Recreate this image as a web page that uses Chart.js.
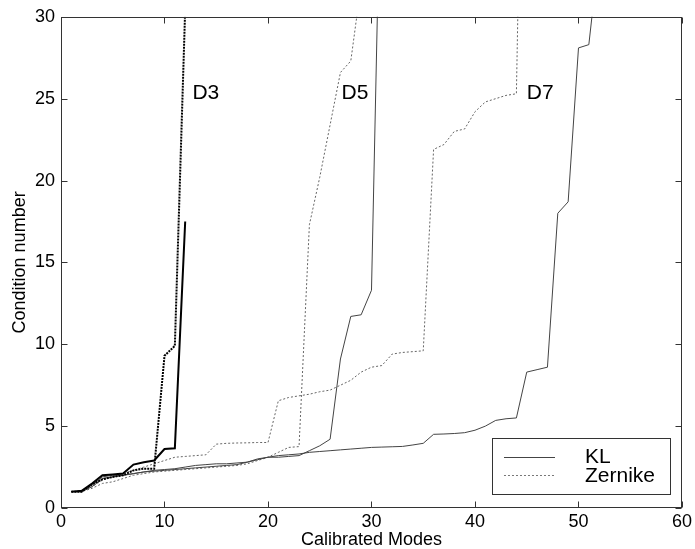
<!DOCTYPE html>
<html>
<head>
<meta charset="utf-8">
<script src="https://cdn.jsdelivr.net/npm/chart.js@4.4.0/dist/chart.umd.min.js"></script>
<style>
html, body { margin: 0; padding: 0; background: #fff; }
#wrap { width: 695px; height: 549px; }
</style>
</head>
<body>
<div id="wrap"><canvas id="chart" width="695" height="549"></canvas></div>
<script>
// calibrated modes (x) and condition numbers
const modes = [1,2,3,4,5,6,7,8,9,10,11,12,13,14,15,16,17,18,19,20,21,22,23,24,25,26,
               27,28,29,30,31,32,33,34,35,36,37,38,39,40,41,42,43,44,45,46,47,48,49,50,51,52];

const d3KL      = [1,1.05,1.5,2.0,2.05,2.1,2.65,2.8,2.9,3.6,3.65,17.5];
const d3Zernike = [1,1,1.45,1.75,1.9,2.0,2.3,2.4,2.4,9.3,9.9,30.5];

const d5KL      = [1,1,1.4,1.9,2.0,2.0,2.1,2.2,2.25,2.3,
                   2.35,2.4,2.45,2.5,2.55,2.6,2.65,2.8,2.95,3.1,
                   3.1,3.15,3.2,3.5,3.8,4.2,9.1,11.7,11.8,13.3,
                   43];
const d5Zernike = [1,1,1.2,1.5,1.6,1.8,2.0,2.1,2.2,2.25,
                   2.3,2.35,2.4,2.45,2.5,2.55,2.6,2.7,2.9,3.1,
                   3.4,3.7,3.75,17.3,20.2,23.4,26.6,27.3,32];

const d7KL      = [1,1,1.3,1.8,1.9,2.0,2.1,2.2,2.3,2.35,
                   2.4,2.5,2.6,2.65,2.7,2.7,2.75,2.8,3.0,3.1,
                   3.2,3.25,3.3,3.4,3.45,3.5,3.55,3.6,3.65,3.7,
                   3.72,3.74,3.76,3.85,3.95,4.5,4.52,4.55,4.6,4.75,
                   5.0,5.35,5.45,5.5,8.3,8.45,8.6,18,18.7,28.1,
                   28.3,34];
const d7Zernike = [1,1,1.3,1.7,1.9,2.1,2.3,2.5,2.7,2.9,
                   3.1,3.15,3.2,3.25,3.9,3.95,3.97,3.98,4.0,4.0,
                   6.55,6.75,6.85,6.95,7.1,7.2,7.5,7.8,8.3,8.6,
                   8.7,9.4,9.5,9.55,9.6,21.9,22.2,23.0,23.15,24.2,
                   24.8,25.0,25.2,25.3,60];

const xTicks = [0,10,20,30,40,50,60];
const yTicks = [0,5,10,15,20,25,30];

// curve names and where they sit (data coords)
const curveNames = ['D3','D5','D7'];
const curveNameX = [12.7,27.1,45.0];
const curveNameY = [25.35,25.35,25.35];

const legendNames = ['KL','Zernike'];

const FONT = '"Liberation Sans", Arial, Helvetica, sans-serif';

function toPoints(values) {
    return values.map((v, i) => ({ x: modes[i], y: v }));
}

function line(values, color, width, dash) {
    return {
        data: toPoints(values),
        borderColor: color,
        borderWidth: width,
        borderDash: dash || [],
        pointRadius: 0,
        tension: 0,
        fill: false
    };
}

// box, inward ticks, curve names and legend, matlab style
const framePlugin = {
    id: 'frame',
    afterDatasetsDraw(chart) {
        const { ctx, chartArea: a, scales } = chart;
        const xs = scales.x, ys = scales.y;
        const L = Math.round(a.left) + 0.5, R = Math.round(a.right) - 0.5;
        const T = Math.round(a.top) + 0.5, B = Math.round(a.bottom) - 0.5;
        ctx.save();
        ctx.strokeStyle = '#333';
        ctx.lineWidth = 1;
        ctx.setLineDash([]);
        ctx.strokeRect(L, T, R - L, B - T);

        ctx.beginPath();
        xTicks.forEach(t => {
            const px = Math.round(xs.getPixelForValue(t)) + 0.5;
            ctx.moveTo(px, B); ctx.lineTo(px, B - 6);
            ctx.moveTo(px, T); ctx.lineTo(px, T + 6);
        });
        yTicks.forEach(t => {
            const py = Math.round(ys.getPixelForValue(t)) + 0.5;
            ctx.moveTo(L, py); ctx.lineTo(L + 6, py);
            ctx.moveTo(R, py); ctx.lineTo(R - 6, py);
        });
        ctx.stroke();

        ctx.fillStyle = '#000';
        ctx.font = '21px ' + FONT;
        ctx.textBaseline = 'middle';
        ctx.textAlign = 'left';
        curveNames.forEach((n, i) => {
            ctx.fillText(n, xs.getPixelForValue(curveNameX[i]), ys.getPixelForValue(curveNameY[i]));
        });

        // legend box
        const bx = a.right - 190, by = a.bottom - 70;
        ctx.fillStyle = '#fff';
        ctx.fillRect(bx, by, 178, 56);
        ctx.strokeStyle = '#333';
        ctx.strokeRect(Math.round(bx) + 0.5, Math.round(by) + 0.5, 178, 56);

        ctx.lineWidth = 1;
        ctx.strokeStyle = '#444';
        ctx.beginPath();
        ctx.moveTo(bx + 12, Math.round(by + 19) + 0.5);
        ctx.lineTo(bx + 63, Math.round(by + 19) + 0.5);
        ctx.stroke();
        ctx.strokeStyle = '#777';
        ctx.setLineDash([2, 2]);
        ctx.beginPath();
        ctx.moveTo(bx + 12, Math.round(by + 37) + 0.5);
        ctx.lineTo(bx + 63, Math.round(by + 37) + 0.5);
        ctx.stroke();
        ctx.setLineDash([]);

        ctx.fillStyle = '#000';
        ctx.textBaseline = 'alphabetic';
        ctx.fillText(legendNames[0], bx + 93, by + 25);
        ctx.fillText(legendNames[1], bx + 93, by + 44);
        ctx.restore();
    }
};

const ctx = document.getElementById('chart').getContext('2d');
new Chart(ctx, {
    type: 'line',
    data: {
        datasets: [
            line(d3KL, '#000', 2),
            line(d3Zernike, '#000', 2, [2, 1]),
            line(d5KL, '#444', 1),
            line(d5Zernike, '#666', 1, [2, 2]),
            line(d7KL, '#444', 1),
            line(d7Zernike, '#666', 1, [2, 2])
        ]
    },
    options: {
        responsive: false,
        animation: false,
        layout: { padding: { top: 14, right: 0, bottom: 0, left: 0 } },
        plugins: { legend: { display: false }, tooltip: { enabled: false } },
        scales: {
            x: {
                type: 'linear',
                min: 0, max: 60,
                grid: { display: false, drawTicks: false },
                border: { display: false },
                afterBuildTicks: s => { s.ticks = xTicks.map(v => ({ value: v })); },
                afterFit: s => { s.height = 41; },
                ticks: { color: '#000', padding: 3, maxRotation: 0, font: { family: FONT, size: 18 } },
                title: { display: true, text: 'Calibrated Modes', color: '#000', padding: { top: 0, bottom: -2 },
                         font: { family: FONT, size: 18 } }
            },
            y: {
                min: 0, max: 30,
                grid: { display: false, drawTicks: false },
                border: { display: false },
                afterBuildTicks: s => { s.ticks = yTicks.map(v => ({ value: v })); },
                afterFit: s => { s.width = 61; },
                ticks: { color: '#000', padding: 6, font: { family: FONT, size: 18 } },
                title: { display: true, text: 'Condition number', color: '#000', padding: { top: 9, bottom: 0 },
                         font: { family: FONT, size: 18 } }
            }
        }
    },
    plugins: [framePlugin]
});
</script>
</body>
</html>
